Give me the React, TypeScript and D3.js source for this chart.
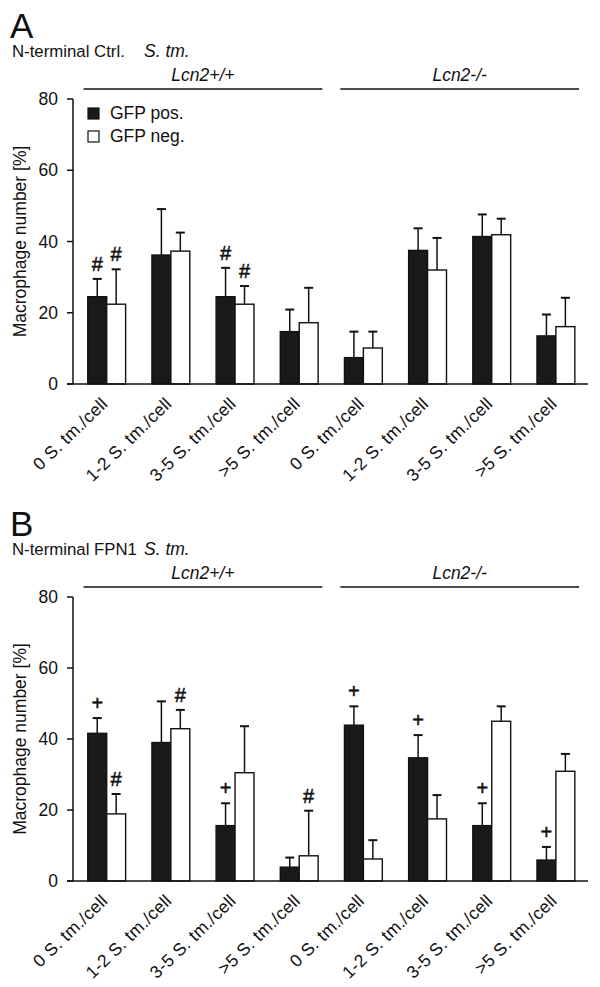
import React from "react";
import * as d3 from "d3";

const categories = [
  "0 S. tm./cell", "1-2 S. tm./cell", "3-5 S. tm./cell", ">5 S. tm./cell",
  "0 S. tm./cell", "1-2 S. tm./cell", "3-5 S. tm./cell", ">5 S. tm./cell",
];
const genotypes = ["Lcn2+/+", "Lcn2-/-"];
const yTicks = [0, 20, 40, 60, 80];
const seriesNames = ["GFP pos.", "GFP neg."];

const aPos = [24.5, 36.2, 24.5, 14.7, 7.4, 37.5, 41.4, 13.5];
const aPosErr = [5.0, 12.9, 8.1, 6.2, 7.3, 6.2, 6.2, 6.0];
const aNeg = [22.4, 37.3, 22.4, 17.2, 10.1, 32.0, 41.9, 16.1];
const aNegErr = [9.8, 5.2, 5.1, 9.8, 4.6, 9.0, 4.5, 8.1];
const aPosMark = ["#", "", "#", "", "", "", "", ""];
const aNegMark = ["#", "", "#", "", "", "", "", ""];

const bPos = [41.6, 39.0, 15.6, 3.9, 43.9, 34.7, 15.6, 5.9];
const bPosErr = [4.3, 11.6, 6.3, 2.7, 5.3, 6.4, 6.3, 3.7];
const bNeg = [18.9, 42.9, 30.5, 7.1, 6.2, 17.5, 45.0, 30.9];
const bNegErr = [5.6, 5.3, 13.1, 12.7, 5.3, 6.7, 4.2, 4.9];
const bPosMark = ["+", "", "+", "", "+", "+", "+", "+"];
const bNegMark = ["#", "#", "", "#", "", "", "", ""];

const FONT = "'Liberation Sans', Arial, sans-serif";
const FS = 17.5;

type PanelProps = {
  letter: string;
  title: string;
  species: string;
  top: number; // y of value 80
  bottom: number; // y of value 0
  pos: number[];
  posErr: number[];
  neg: number[];
  negErr: number[];
  posMark: string[];
  negMark: string[];
  legend: boolean;
};

const idx = categories.map((_, i) => String(i));

function Panel(p: PanelProps) {
  const x = d3.scaleBand<string>().domain(idx).range([74.6, 588]).paddingInner(0.41).paddingOuter(0.205);
  const y = d3.scaleLinear().domain([0, 80]).range([p.bottom, p.top]);
  const bw = x.bandwidth() / 2;
  const axisX = 73;
  const lineY = p.top - 10;
  const step = x.step();
  const groupSpans = [
    [74.6 + 9, 74.6 + 4 * step - 9],
    [74.6 + 4 * step + 9, 74.6 + 8 * step - 9],
  ];
  const bars = (vals: number[], errs: number[], marks: string[], k: number) =>
    vals.map((v, i) => {
      const bx = (x(String(i)) as number) + k * bw;
      const cx = bx + bw / 2;
      const capY = y(v + errs[i]);
      return (
        <g key={`${k}-${i}`}>
          <line x1={cx} x2={cx} y1={y(v)} y2={capY} stroke="#111" strokeWidth={1.5} />
          <line x1={cx - 4.5} x2={cx + 4.5} y1={capY} y2={capY} stroke="#111" strokeWidth={2} />
          <rect x={bx} y={y(v)} width={bw} height={y(0) - y(v)}
            fill={k === 0 ? "#1a1a1a" : "#fff"} stroke="#111" strokeWidth={1.4} />
          {marks[i] ? (
            <text x={cx} y={capY - 8} textAnchor="middle" fontSize={20} fontFamily={FONT}
              fill="#111" stroke="#111" strokeWidth={0.5}>{marks[i]}</text>
          ) : null}
        </g>
      );
    });
  return (
    <g>
      <text x={10} y={p.top - 61} fontSize={35} fontFamily={FONT} fill="#111">{p.letter}</text>
      <text x={12} y={p.top - 42} fontSize={16.8} fontFamily={FONT} fill="#111">
        {p.title}
        <tspan x={144} fontSize={FS} fontStyle="italic">{p.species}</tspan>
      </text>
      {genotypes.map((g, gi) => (
        <g key={g}>
          <line x1={groupSpans[gi][0]} x2={groupSpans[gi][1]} y1={lineY} y2={lineY} stroke="#111" strokeWidth={1.5} />
          <text x={(groupSpans[gi][0] + groupSpans[gi][1]) / 2} y={lineY - 8} textAnchor="middle"
            fontSize={FS} fontFamily={FONT} fontStyle="italic" fill="#111">{g}</text>
        </g>
      ))}
      <line x1={axisX} x2={axisX} y1={y(80)} y2={y(0)} stroke="#111" strokeWidth={1.5} />
      {yTicks.map((t) => (
        <g key={t}>
          <line x1={axisX - 6} x2={axisX} y1={y(t)} y2={y(t)} stroke="#111" strokeWidth={1.5} />
          <text x={axisX - 15} y={y(t)} dy="0.35em" textAnchor="end" fontSize={FS} fontFamily={FONT} fill="#111">{t}</text>
        </g>
      ))}
      <text transform={`translate(26,${(y(0) + y(80)) / 2}) rotate(-90)`} textAnchor="middle"
        fontSize={FS} fontFamily={FONT} fill="#111">Macrophage number [%]</text>
      {bars(p.pos, p.posErr, p.posMark, 0)}
      {bars(p.neg, p.negErr, p.negMark, 1)}
      <line x1={axisX - 6} x2={588} y1={y(0)} y2={y(0)} stroke="#111" strokeWidth={1.5} />
      {categories.map((c, i) => {
        const cx = (x(String(i)) as number) + x.bandwidth() / 2;
        return (
          <text key={i} transform={`translate(${cx + 2},${y(0) + 21}) rotate(-44)`} textAnchor="end"
            fontSize={FS} fontFamily={FONT} fill="#111" letterSpacing={0.3}>{c}</text>
        );
      })}
      {p.legend ? (
        <g>
          {seriesNames.map((s, si) => (
            <g key={s}>
              <rect x={88} y={y(80) + 9 + si * 23} width={11} height={11} fill={si === 0 ? "#1a1a1a" : "#fff"} stroke="#111" strokeWidth={1.2} />
              <text x={110} y={y(80) + 20 + si * 23} fontSize={FS} fontFamily={FONT} fill="#111">{s}</text>
            </g>
          ))}
        </g>
      ) : null}
    </g>
  );
}

export default function App() {
  return (
    <svg width={600} height={987} style={{ position: "absolute", left: 0, top: 0, background: "#fff" }}>
      <rect width={600} height={987} fill="#fff" />
      <Panel letter="A" title="N-terminal Ctrl." species="S. tm." top={99} bottom={384}
        pos={aPos} posErr={aPosErr} neg={aNeg} negErr={aNegErr} posMark={aPosMark} negMark={aNegMark} legend={true} />
      <Panel letter="B" title="N-terminal FPN1" species="S. tm." top={597} bottom={881}
        pos={bPos} posErr={bPosErr} neg={bNeg} negErr={bNegErr} posMark={bPosMark} negMark={bNegMark} legend={false} />
    </svg>
  );
}
